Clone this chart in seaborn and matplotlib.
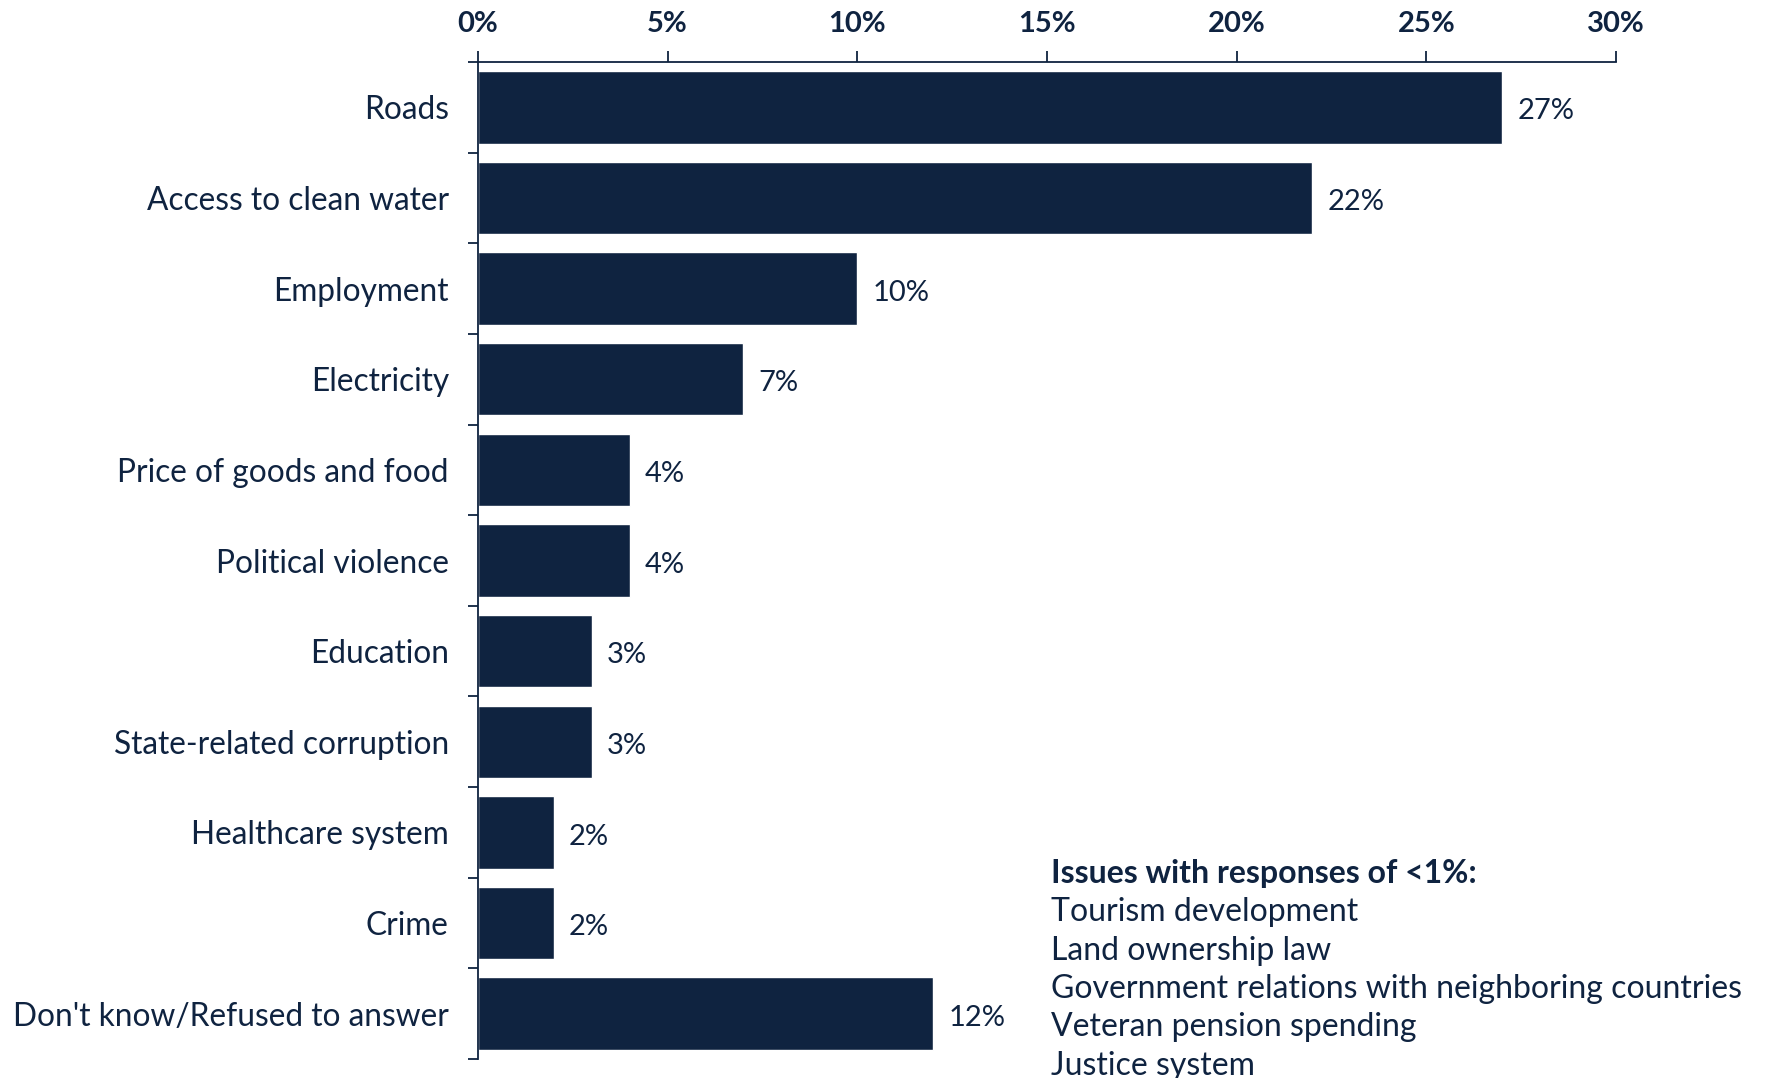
import matplotlib
matplotlib.use("Agg")
import matplotlib.pyplot as plt
import seaborn as sns
import pandas as pd
from matplotlib.ticker import FixedLocator, PercentFormatter

# data
issues = ["Roads", "Access to clean water", "Employment", "Electricity",
          "Price of goods and food", "Political violence", "Education",
          "State-related corruption", "Healthcare system", "Crime",
          "Don't know/Refused to answer"]
shares = [27, 22, 10, 7, 4, 4, 3, 3, 2, 2, 12]
x_ticks = [0, 5, 10, 15, 20, 25, 30]
minor_issues = ["Tourism development", "Land ownership law",
                "Government relations with neighboring countries",
                "Veteran pension spending", "Justice system"]
note_title = "Issues with responses of <1%:"

navy = "#0f2340"
df = pd.DataFrame({"issue": issues, "share": shares})

sns.set_theme(style="white")
plt.rcParams["font.family"] = ["Lato", "DejaVu Sans"]

fig = plt.figure(figsize=(17.67, 10.78), dpi=100)
ax = fig.add_axes([0.2705, 0.0176, 0.9145 - 0.2705, 0.9425 - 0.0176])

sns.barplot(data=df, x="share", y="issue", orient="h", color=navy,
            saturation=1, width=0.8, ax=ax)

ax.set_xlim(0, 30)
ax.set_ylim(len(issues) - 0.5, -0.5)
ax.set_xlabel("")
ax.set_ylabel("")

# axis on top
ax.xaxis.tick_top()
ax.xaxis.set_major_locator(FixedLocator(x_ticks))
ax.xaxis.set_major_formatter(PercentFormatter(decimals=0))
ax.tick_params(axis="x", top=True, bottom=False, direction="out", length=8,
               width=1.3, color=navy, pad=10, labelsize=21, labelcolor=navy)
for lbl in ax.get_xticklabels():
    lbl.set_fontweight("bold")

# y ticks at boundaries between categories
ax.yaxis.set_minor_locator(FixedLocator([i + 0.5 for i in range(-1, len(issues))]))
ax.tick_params(axis="y", which="major", length=0, pad=21, labelsize=22.8, labelcolor=navy)
ax.tick_params(axis="y", which="minor", left=True, length=7, width=1.3, color=navy)

for side in ["right", "bottom"]:
    ax.spines[side].set_visible(False)
for side in ["top", "left"]:
    ax.spines[side].set_color(navy)
    ax.spines[side].set_linewidth(1.3)

for i, v in enumerate(shares):
    ax.annotate(f"{v}%", (v, i), xytext=(11, -3), textcoords="offset points",
                va="center", ha="left", fontsize=21, color=navy)

fig.text(1051 / 1767, 1 - 873 / 1078, note_title, fontsize=23, fontweight="bold",
         color=navy, va="center", ha="left")
for k, s in enumerate(minor_issues):
    fig.text(1051 / 1767, 1 - (912 + 38.5 * k) / 1078, s, fontsize=23,
             color=navy, va="center", ha="left")

fig.savefig("out.png", dpi=100)
